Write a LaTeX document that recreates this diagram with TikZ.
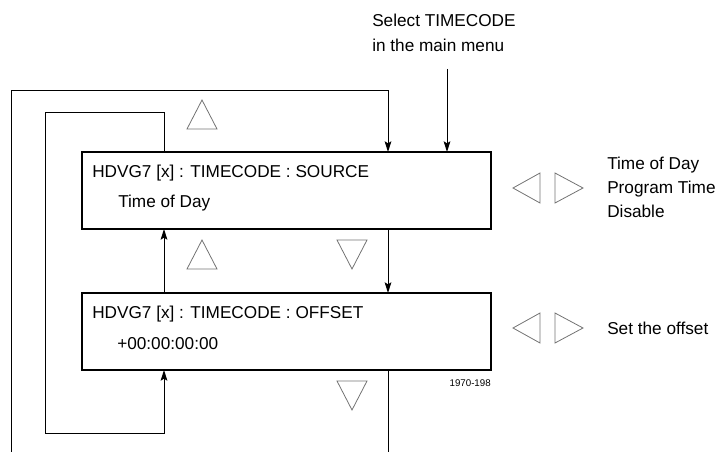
\documentclass[tikz,border=0pt]{standalone}
\usepackage{fontspec}
\setmainfont{Liberation Sans}
\usetikzlibrary{arrows.meta}
\begin{document}
\begin{tikzpicture}[x=0.75pt,y=-0.75pt,
  menubox/.style={draw, line width=1.5pt, minimum width=306.75pt, minimum height=57.75pt, inner sep=0pt, outer sep=0pt},
  txt/.style={anchor=base west, inner sep=0pt, font=\fontsize{12.9}{15}\selectfont},
  small/.style={anchor=base east, inner sep=0pt, font=\fontsize{7.3}{8}\selectfont},
  conn/.style={line width=0.75pt},
  arr/.style={conn, -{Stealth[length=8pt,width=5pt,inset=1.5pt]}},
  tri/.style={draw=black!55, line width=0.6pt, line join=miter}]
\useasboundingbox (0,0) rectangle (717,452);

% boxes
\node[menubox] (box1) at (286.5,190.5) {};
\node[menubox] (box2) at (286.5,331.5) {};

% texts in boxes
\node[txt] (t1a) at (92,177.5) {HDVG7 [x] : TIMECODE : SOURCE};
\node[txt] (t1b) at (118,207.5) {Time of Day};
\node[txt] (t2a) at (92,318) {HDVG7 [x] : TIMECODE : OFFSET};
\node[txt] (t2b) at (117,349) {+00:00:00:00};

% top label
\node[txt] (sel1) at (372,27) {Select TIMECODE};
\node[txt] (sel2) at (372,52) {in the main menu};

% right labels
\node[txt] (o1) at (607,170) {Time of Day};
\node[txt] (o2) at (607,194) {Program Time};
\node[txt] (o3) at (607,218) {Disable};
\node[txt] (o4) at (607,334) {Set the offset};

\node[small] (fig) at (491,386) {1970-198};

% helper coordinates
\coordinate (xL) at (164,0);
\coordinate (xR) at (388,0);
\coordinate (xM) at (447,0);
\coordinate (mm) at (447,69);
\coordinate (otl) at (11,91);
\coordinate (otr) at (388,91);
\coordinate (obl) at (11,452);
\coordinate (obr) at (388,452);
\coordinate (itr) at (164,113);
\coordinate (itl) at (45,113);
\coordinate (ibl) at (45,433);
\coordinate (ibr) at (164,433);

% connectors
\draw[arr] (mm) -- (box1.north -| xM);
\draw[arr] (obl) -- (otl) -- (otr) -- (box1.north -| xR);
\draw[conn] (box2.south -| xR) -- (obr);
\draw[arr] (box1.north -| xL) -- (itr) -- (itl) -- (ibl) -- (ibr) -- (box2.south -| xL);
\draw[arr] (box2.north -| xL) -- (box1.south -| xL);
\draw[arr] (box1.south -| xR) -- (box2.north -| xR);

% triangles (button symbols)
\draw[tri] (187,129) -- (202,100) -- (217,129) -- cycle;
\draw[tri] (187,269) -- (202,240) -- (217,269) -- cycle;
\draw[tri] (337,240) -- (352,269) -- (367,240) -- cycle;
\draw[tri] (337,381) -- (352,410) -- (367,381) -- cycle;
\draw[tri] (540,173) -- (513,188) -- (540,203) -- cycle;
\draw[tri] (555,173) -- (583,188) -- (555,203) -- cycle;
\draw[tri] (540,313) -- (513,328) -- (540,343) -- cycle;
\draw[tri] (555,313) -- (583,328) -- (555,343) -- cycle;
\end{tikzpicture}
\end{document}
